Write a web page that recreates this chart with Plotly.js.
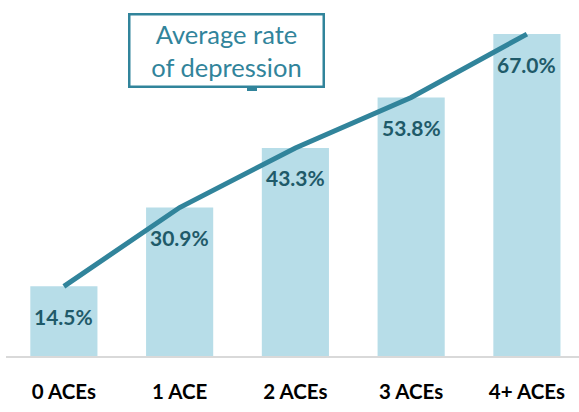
<!DOCTYPE html>
<html>
<head>
<meta charset="utf-8">
<script src="https://cdn.plot.ly/plotly-3.0.1.min.js"></script>
<style>
  html, body { margin: 0; padding: 0; background: #ffffff; }
  #chart { width: 579px; height: 412px; }
</style>
</head>
<body>
<div id="chart"></div>
<script>
// Share of people with depression by number of adverse childhood experiences
const categories = ["0 ACEs", "1 ACE", "2 ACEs", "3 ACEs", "4+ ACEs"];
const depressionRate = [14.5, 30.9, 43.3, 53.8, 67.0];
const valueLabels = ["14.5%", "30.9%", "43.3%", "53.8%", "67.0%"];
const calloutText = "Average rate<br>of depression";

const barColor = "#b7dde8";
const lineColor = "#31849b";
const labelColor = "#1f5a69";

const bars = {
  type: "bar",
  x: categories,
  y: depressionRate,
  marker: { color: barColor },
  hoverinfo: "skip",
  showlegend: false
};

const trend = {
  type: "scatter",
  mode: "lines",
  x: categories,
  y: depressionRate,
  line: { color: lineColor, width: 5 },
  hoverinfo: "skip",
  showlegend: false
};

// value labels sit inside each bar, a little below its top
const labelAnnotations = categories.map((c, i) => ({
  x: c,
  y: depressionRate[i],
  xref: "x",
  yref: "y",
  text: valueLabels[i],
  showarrow: false,
  yanchor: "middle",
  yshift: -30,
  font: { family: "Lato, 'Open Sans', sans-serif", size: 21, color: labelColor, weight: "bold" }
}));

const callout = {
  xref: "paper",
  yref: "paper",
  x: (226 - 6) / 573,
  y: (356 - 51) / 356,
  xanchor: "center",
  yanchor: "middle",
  text: calloutText,
  showarrow: false,
  width: 192,
  height: 70,
  borderpad: 0,
  bordercolor: lineColor,
  borderwidth: 2.5,
  bgcolor: "#ffffff",
  font: { family: "Lato, 'Open Sans', sans-serif", size: 25.5, color: lineColor }
};

const layout = {
  width: 579,
  height: 412,
  margin: { l: 6, r: 0, t: 0, b: 56 },
  paper_bgcolor: "#ffffff",
  plot_bgcolor: "#ffffff",
  bargap: 0.42,
  xaxis: {
    type: "category",
    range: [-0.5, 4.45],
    showline: true,
    linecolor: "#d9d9d9",
    linewidth: 2,
    showgrid: false,
    ticks: "",
    ticklabelstandoff: 16,
    tickfont: { family: "Lato, 'Open Sans', sans-serif", size: 20.5, color: "#000000", weight: "bold" },
    fixedrange: true
  },
  yaxis: {
    range: [0, 74.1],
    visible: false,
    showgrid: false,
    zeroline: false,
    fixedrange: true
  },
  shapes: [
    {
      type: "line",
      xref: "paper",
      yref: "paper",
      x0: (247 - 6) / 573,
      x1: (257 - 6) / 573,
      y0: (356 - 89.5) / 356,
      y1: (356 - 89.5) / 356,
      line: { color: lineColor, width: 3 }
    }
  ],
  annotations: labelAnnotations.concat([callout])
};

Plotly.newPlot("chart", [bars, trend], layout, { displayModeBar: false, staticPlot: true });
</script>
</body>
</html>
